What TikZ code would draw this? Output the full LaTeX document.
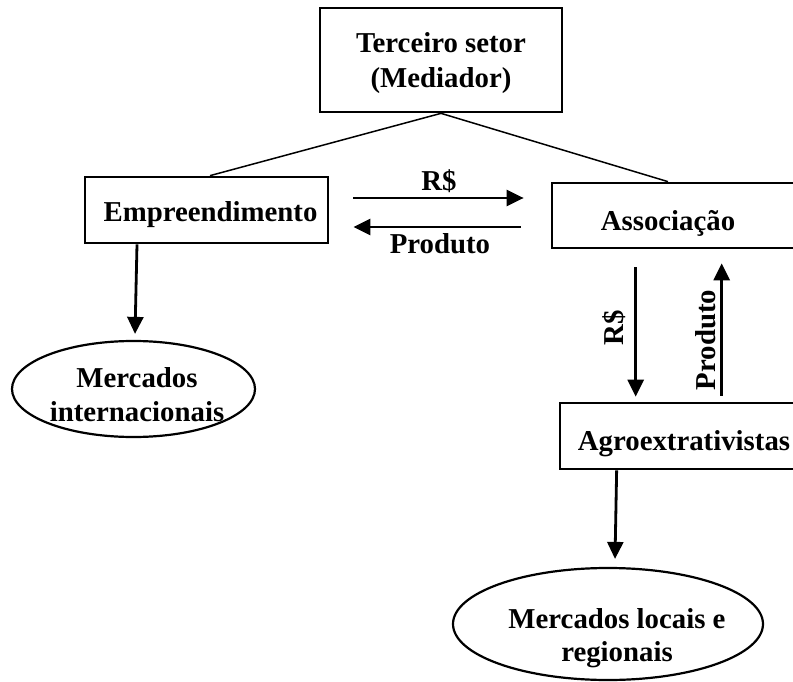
\documentclass[tikz,border=0pt]{standalone}
\usepackage{fontspec}
\setmainfont{Liberation Serif}
\usetikzlibrary{arrows.meta,shapes.geometric,calc}
\begin{document}
\begin{tikzpicture}[x=1pt,y=-1pt,
  box/.style={draw,line width=2.7pt,inner sep=0pt},
  oval/.style={draw,ellipse,line width=2.2pt,inner sep=0pt},
  txt/.style={font=\fontsize{28.8}{34}\selectfont\bfseries,inner sep=0pt,align=center},
  thinline/.style={line width=1.5pt},
  arr/.style={line width=2.8pt,-{Triangle[length=17pt,width=16pt]}}]
\useasboundingbox (0,0) rectangle (793,682);
\clip (0,0) rectangle (793,682);

% boxes
\node[box,minimum width=242pt,minimum height=104pt] (top) at (441,60) {};
\node[txt,font=\fontsize{28.8}{35}\selectfont\bfseries] (topT) at (441,63) {Terceiro setor\\(Mediador)};

\node[box,minimum width=243pt,minimum height=66pt] (emp) at (206.5,210) {};
\node[txt,anchor=base] (empT) at (210.5,222) {Empreendimento};

\node[box,minimum width=288pt,minimum height=65pt] (assoc) at (696,215.5) {};
\node[txt,anchor=base] (assocT) at (668,230) {Associação};

\node[box,minimum width=280pt,minimum height=66pt] (agro) at (700,436) {};
\node[txt,anchor=base] (agroT) at (684,450) {Agroextrativistas};

% ellipses
\node[oval,minimum width=243pt,minimum height=96pt] (e1) at (133.5,389) {};
\node[txt,font=\fontsize{28.8}{34}\selectfont\bfseries] (e1T) at (137,395) {Mercados\\internacionais};

\node[oval,minimum width=310pt,minimum height=112pt] (e2) at (608,624) {};
\node[txt,font=\fontsize{28.8}{33}\selectfont\bfseries] (e2T) at (617,638) {Mercados locais e\\regionais};

% thin connectors
\draw[thinline] (top.south) -- (210,0 |- emp.north);
\draw[thinline] (top.south) -- (668,0 |- assoc.north);

% arrows
\draw[arr] ($(emp.east)+(24,-12)$) -- ($(assoc.west)+(-27,-17.5)$);
\draw[arr] ($(assoc.west)+(-30,11.5)$) -- ($(emp.east)+(24,17)$);
\draw[arr] ($(assoc.south west)+(85,18)$) -- ($(agro.north west)+(77,-5)$);
\draw[arr] ($(agro.north west)+(163,-6)$) -- ($(assoc.south west)+(171,14)$);
\draw[arr] (137,0 |- emp.south) -- ($(e1.north)+(1.5,-6)$);
\draw[arr] ($(agro.south west)+(58,0)$) -- ($(e2.north)+(7,-8)$);

% arrow labels
\node[txt,anchor=base] (l1) at (439,190) {R\$};
\node[txt,anchor=base] (l2) at (440,253) {Produto};
\node[txt,rotate=90,anchor=base] (l3) at (623,328) {R\$};
\node[txt,rotate=90,anchor=base] (l4) at (715,340) {Produto};
\end{tikzpicture}
\end{document}
